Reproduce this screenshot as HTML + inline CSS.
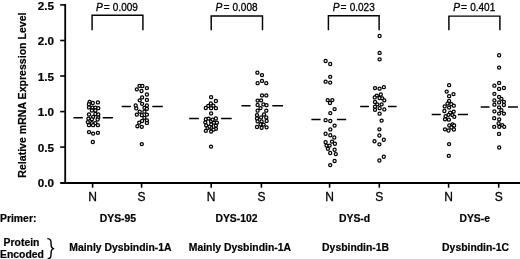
<!DOCTYPE html>
<html><head><meta charset="utf-8"><style>
html,body{margin:0;padding:0;background:#fff;width:520px;height:259px;overflow:hidden}
svg{display:block;will-change:transform}
text{font-family:"Liberation Sans",sans-serif;fill:#000}
.b{font-weight:bold;stroke:#000;stroke-width:0.2px}
.r{stroke:#000;stroke-width:0.3px}
</style></head><body>
<svg width="520" height="259" viewBox="0 0 520 259">

<g stroke="#000" fill="none">
<line x1="65.2" y1="4.1" x2="65.2" y2="183.9" stroke-width="1.8"/>
<line x1="60.2" y1="183.0" x2="520" y2="183.0" stroke-width="2.0"/>
<line x1="60.2" y1="147.1" x2="65.2" y2="147.1" stroke-width="1.6"/>
<line x1="60.2" y1="111.6" x2="65.2" y2="111.6" stroke-width="1.6"/>
<line x1="60.2" y1="76.0" x2="65.2" y2="76.0" stroke-width="1.6"/>
<line x1="60.2" y1="40.5" x2="65.2" y2="40.5" stroke-width="1.6"/>
<line x1="60.2" y1="4.9" x2="65.2" y2="4.9" stroke-width="1.6"/>
<line x1="92.6" y1="183" x2="92.6" y2="187.7" stroke-width="1.6"/>
<line x1="211.2" y1="183" x2="211.2" y2="187.7" stroke-width="1.6"/>
<line x1="329.6" y1="183" x2="329.6" y2="187.7" stroke-width="1.6"/>
<line x1="448.6" y1="183" x2="448.6" y2="187.7" stroke-width="1.6"/>
<line x1="141.6" y1="183" x2="141.6" y2="187.7" stroke-width="1.6"/>
<line x1="261.4" y1="183" x2="261.4" y2="187.7" stroke-width="1.6"/>
<line x1="379.3" y1="183" x2="379.3" y2="187.7" stroke-width="1.6"/>
<line x1="498.7" y1="183" x2="498.7" y2="187.7" stroke-width="1.6"/>
<path d="M92.1 30.3 V15.3 H142.9 V30.3" stroke-width="1.45"/>
<path d="M211.2 30.3 V16.0 H262.5 V30.3" stroke-width="1.45"/>
<path d="M328.4 30.3 V15.8 H379.1 V30.3" stroke-width="1.45"/>
<path d="M448.9 30.3 V16.1 H499.9 V30.3" stroke-width="1.45"/>
<path d="M73.4 117.75H82.8M102.7 117.75H112.9" stroke-width="1.5"/>
<path d="M121.7 106.5H130.9M152.3 106.5H162.8" stroke-width="1.5"/>
<path d="M189.2 118.5H198.9M221.1 118.5H231.7" stroke-width="1.5"/>
<path d="M241.5 105.7H250.5M272.3 105.7H283.1" stroke-width="1.5"/>
<path d="M311.4 119.4H320.6M336.9 119.4H346.2" stroke-width="1.5"/>
<path d="M360.2 106.4H368.9M387.9 106.4H396.6" stroke-width="1.5"/>
<path d="M431.7 114.5H440.8M457.9 114.5H468.0" stroke-width="1.5"/>
<path d="M480.7 107.1H489.5M508.0 107.1H517.9" stroke-width="1.5"/>
</g>
<g stroke="#000" fill="#fff" stroke-width="1.25">
<circle cx="89.6" cy="101.8" r="1.55"/>
<circle cx="88.9" cy="104.2" r="1.55"/>
<circle cx="92.8" cy="103.0" r="1.55"/>
<circle cx="97.9" cy="102.4" r="1.55"/>
<circle cx="89.0" cy="107.4" r="1.55"/>
<circle cx="92.5" cy="107.6" r="1.55"/>
<circle cx="95.4" cy="107.6" r="1.55"/>
<circle cx="98.3" cy="108.2" r="1.55"/>
<circle cx="91.9" cy="110.5" r="1.55"/>
<circle cx="95.4" cy="110.5" r="1.55"/>
<circle cx="89.0" cy="114.5" r="1.55"/>
<circle cx="95.4" cy="114.0" r="1.55"/>
<circle cx="98.3" cy="114.5" r="1.55"/>
<circle cx="93.1" cy="116.9" r="1.55"/>
<circle cx="98.3" cy="117.4" r="1.55"/>
<circle cx="88.4" cy="118.6" r="1.55"/>
<circle cx="91.9" cy="119.2" r="1.55"/>
<circle cx="97.6" cy="119.5" r="1.55"/>
<circle cx="87.8" cy="122.1" r="1.55"/>
<circle cx="91.9" cy="123.2" r="1.55"/>
<circle cx="95.4" cy="123.2" r="1.55"/>
<circle cx="89.0" cy="125.2" r="1.55"/>
<circle cx="93.1" cy="125.2" r="1.55"/>
<circle cx="97.9" cy="125.2" r="1.55"/>
<circle cx="89.0" cy="132.1" r="1.55"/>
<circle cx="93.1" cy="133.6" r="1.55"/>
<circle cx="97.9" cy="132.8" r="1.55"/>
<circle cx="92.8" cy="142.0" r="1.55"/>
<circle cx="139.5" cy="85.8" r="1.55"/>
<circle cx="142.4" cy="86.0" r="1.55"/>
<circle cx="136.8" cy="89.3" r="1.55"/>
<circle cx="141.5" cy="91.0" r="1.55"/>
<circle cx="146.9" cy="88.1" r="1.55"/>
<circle cx="146.9" cy="94.5" r="1.55"/>
<circle cx="142.1" cy="97.4" r="1.55"/>
<circle cx="139.7" cy="100.3" r="1.55"/>
<circle cx="146.9" cy="99.9" r="1.55"/>
<circle cx="142.1" cy="103.8" r="1.55"/>
<circle cx="135.7" cy="105.5" r="1.55"/>
<circle cx="146.9" cy="105.5" r="1.55"/>
<circle cx="144.4" cy="107.8" r="1.55"/>
<circle cx="136.3" cy="108.4" r="1.55"/>
<circle cx="146.9" cy="108.8" r="1.55"/>
<circle cx="139.7" cy="111.7" r="1.55"/>
<circle cx="144.4" cy="111.7" r="1.55"/>
<circle cx="136.8" cy="114.6" r="1.55"/>
<circle cx="141.8" cy="115.2" r="1.55"/>
<circle cx="146.9" cy="114.6" r="1.55"/>
<circle cx="144.4" cy="117.8" r="1.55"/>
<circle cx="142.1" cy="121.0" r="1.55"/>
<circle cx="146.9" cy="120.4" r="1.55"/>
<circle cx="139.2" cy="122.7" r="1.55"/>
<circle cx="146.9" cy="122.9" r="1.55"/>
<circle cx="137.4" cy="126.2" r="1.55"/>
<circle cx="141.8" cy="126.8" r="1.55"/>
<circle cx="141.8" cy="144.1" r="1.55"/>
<circle cx="211.1" cy="97.2" r="1.55"/>
<circle cx="215.9" cy="101.0" r="1.55"/>
<circle cx="210.8" cy="103.4" r="1.55"/>
<circle cx="208.2" cy="105.9" r="1.55"/>
<circle cx="213.4" cy="105.7" r="1.55"/>
<circle cx="205.8" cy="108.0" r="1.55"/>
<circle cx="211.1" cy="108.2" r="1.55"/>
<circle cx="215.9" cy="108.2" r="1.55"/>
<circle cx="211.1" cy="113.4" r="1.55"/>
<circle cx="205.8" cy="119.2" r="1.55"/>
<circle cx="208.6" cy="118.6" r="1.55"/>
<circle cx="215.9" cy="118.5" r="1.55"/>
<circle cx="211.1" cy="121.2" r="1.55"/>
<circle cx="205.3" cy="122.3" r="1.55"/>
<circle cx="214.0" cy="122.7" r="1.55"/>
<circle cx="216.9" cy="122.7" r="1.55"/>
<circle cx="206.2" cy="125.4" r="1.55"/>
<circle cx="211.1" cy="124.4" r="1.55"/>
<circle cx="215.9" cy="125.6" r="1.55"/>
<circle cx="207.6" cy="127.9" r="1.55"/>
<circle cx="211.1" cy="127.7" r="1.55"/>
<circle cx="215.9" cy="128.8" r="1.55"/>
<circle cx="205.8" cy="130.8" r="1.55"/>
<circle cx="211.1" cy="131.6" r="1.55"/>
<circle cx="209.5" cy="126.6" r="1.55"/>
<circle cx="213.5" cy="129.6" r="1.55"/>
<circle cx="212.6" cy="119.6" r="1.55"/>
<circle cx="211.0" cy="146.6" r="1.55"/>
<circle cx="257.4" cy="72.7" r="1.55"/>
<circle cx="262.0" cy="75.1" r="1.55"/>
<circle cx="257.6" cy="83.2" r="1.55"/>
<circle cx="262.0" cy="80.9" r="1.55"/>
<circle cx="266.3" cy="83.2" r="1.55"/>
<circle cx="262.0" cy="95.4" r="1.55"/>
<circle cx="266.3" cy="95.4" r="1.55"/>
<circle cx="257.6" cy="100.6" r="1.55"/>
<circle cx="261.1" cy="100.3" r="1.55"/>
<circle cx="257.6" cy="104.9" r="1.55"/>
<circle cx="263.4" cy="104.4" r="1.55"/>
<circle cx="266.5" cy="105.2" r="1.55"/>
<circle cx="260.5" cy="108.1" r="1.55"/>
<circle cx="257.6" cy="110.7" r="1.55"/>
<circle cx="266.3" cy="110.7" r="1.55"/>
<circle cx="257.0" cy="115.1" r="1.55"/>
<circle cx="264.0" cy="114.5" r="1.55"/>
<circle cx="261.1" cy="117.4" r="1.55"/>
<circle cx="257.0" cy="118.5" r="1.55"/>
<circle cx="266.3" cy="117.4" r="1.55"/>
<circle cx="257.6" cy="121.4" r="1.55"/>
<circle cx="261.6" cy="121.4" r="1.55"/>
<circle cx="266.6" cy="120.9" r="1.55"/>
<circle cx="260.5" cy="124.4" r="1.55"/>
<circle cx="257.0" cy="127.0" r="1.55"/>
<circle cx="261.6" cy="127.8" r="1.55"/>
<circle cx="266.6" cy="127.3" r="1.55"/>
<circle cx="263.6" cy="124.6" r="1.55"/>
<circle cx="325.6" cy="61.0" r="1.55"/>
<circle cx="330.2" cy="64.0" r="1.55"/>
<circle cx="330.2" cy="76.8" r="1.55"/>
<circle cx="325.6" cy="81.7" r="1.55"/>
<circle cx="330.2" cy="82.6" r="1.55"/>
<circle cx="327.7" cy="100.1" r="1.55"/>
<circle cx="332.3" cy="100.1" r="1.55"/>
<circle cx="330.0" cy="103.0" r="1.55"/>
<circle cx="334.6" cy="109.1" r="1.55"/>
<circle cx="330.3" cy="113.1" r="1.55"/>
<circle cx="325.6" cy="120.2" r="1.55"/>
<circle cx="330.3" cy="121.0" r="1.55"/>
<circle cx="334.6" cy="125.6" r="1.55"/>
<circle cx="330.3" cy="129.4" r="1.55"/>
<circle cx="325.6" cy="133.7" r="1.55"/>
<circle cx="330.3" cy="135.2" r="1.55"/>
<circle cx="334.3" cy="137.5" r="1.55"/>
<circle cx="325.6" cy="142.2" r="1.55"/>
<circle cx="332.0" cy="141.6" r="1.55"/>
<circle cx="334.9" cy="143.7" r="1.55"/>
<circle cx="326.5" cy="145.6" r="1.55"/>
<circle cx="329.6" cy="145.6" r="1.55"/>
<circle cx="327.9" cy="148.8" r="1.55"/>
<circle cx="334.6" cy="149.7" r="1.55"/>
<circle cx="330.2" cy="153.0" r="1.55"/>
<circle cx="335.8" cy="154.1" r="1.55"/>
<circle cx="334.6" cy="161.0" r="1.55"/>
<circle cx="330.2" cy="165.1" r="1.55"/>
<circle cx="379.6" cy="36.0" r="1.55"/>
<circle cx="379.6" cy="52.9" r="1.55"/>
<circle cx="379.6" cy="59.3" r="1.55"/>
<circle cx="375.0" cy="88.1" r="1.55"/>
<circle cx="379.6" cy="88.7" r="1.55"/>
<circle cx="383.9" cy="87.2" r="1.55"/>
<circle cx="380.8" cy="94.5" r="1.55"/>
<circle cx="376.7" cy="95.6" r="1.55"/>
<circle cx="374.7" cy="97.4" r="1.55"/>
<circle cx="379.6" cy="98.0" r="1.55"/>
<circle cx="382.3" cy="98.3" r="1.55"/>
<circle cx="384.3" cy="100.3" r="1.55"/>
<circle cx="375.0" cy="102.0" r="1.55"/>
<circle cx="377.3" cy="104.3" r="1.55"/>
<circle cx="381.6" cy="104.3" r="1.55"/>
<circle cx="375.0" cy="106.7" r="1.55"/>
<circle cx="379.6" cy="108.2" r="1.55"/>
<circle cx="384.3" cy="109.4" r="1.55"/>
<circle cx="375.0" cy="109.8" r="1.55"/>
<circle cx="379.6" cy="113.7" r="1.55"/>
<circle cx="381.6" cy="120.6" r="1.55"/>
<circle cx="379.4" cy="129.3" r="1.55"/>
<circle cx="379.4" cy="135.5" r="1.55"/>
<circle cx="383.8" cy="139.7" r="1.55"/>
<circle cx="374.5" cy="141.2" r="1.55"/>
<circle cx="379.4" cy="144.3" r="1.55"/>
<circle cx="383.8" cy="156.7" r="1.55"/>
<circle cx="379.4" cy="160.5" r="1.55"/>
<circle cx="449.1" cy="85.2" r="1.55"/>
<circle cx="446.7" cy="91.6" r="1.55"/>
<circle cx="453.5" cy="94.1" r="1.55"/>
<circle cx="449.1" cy="96.2" r="1.55"/>
<circle cx="449.1" cy="100.9" r="1.55"/>
<circle cx="447.5" cy="103.6" r="1.55"/>
<circle cx="451.3" cy="104.2" r="1.55"/>
<circle cx="453.8" cy="105.7" r="1.55"/>
<circle cx="444.7" cy="106.4" r="1.55"/>
<circle cx="449.1" cy="107.6" r="1.55"/>
<circle cx="444.4" cy="111.0" r="1.55"/>
<circle cx="453.7" cy="111.6" r="1.55"/>
<circle cx="450.2" cy="112.7" r="1.55"/>
<circle cx="448.5" cy="114.8" r="1.55"/>
<circle cx="452.5" cy="115.1" r="1.55"/>
<circle cx="445.6" cy="116.2" r="1.55"/>
<circle cx="454.3" cy="116.8" r="1.55"/>
<circle cx="445.0" cy="119.3" r="1.55"/>
<circle cx="448.9" cy="119.7" r="1.55"/>
<circle cx="452.5" cy="124.5" r="1.55"/>
<circle cx="449.3" cy="125.5" r="1.55"/>
<circle cx="454.1" cy="125.5" r="1.55"/>
<circle cx="451.4" cy="127.5" r="1.55"/>
<circle cx="445.0" cy="129.3" r="1.55"/>
<circle cx="448.5" cy="130.5" r="1.55"/>
<circle cx="453.9" cy="129.5" r="1.55"/>
<circle cx="449.1" cy="144.1" r="1.55"/>
<circle cx="448.8" cy="155.8" r="1.55"/>
<circle cx="499.1" cy="55.2" r="1.55"/>
<circle cx="499.1" cy="67.6" r="1.55"/>
<circle cx="499.1" cy="82.9" r="1.55"/>
<circle cx="494.4" cy="85.7" r="1.55"/>
<circle cx="499.1" cy="88.9" r="1.55"/>
<circle cx="503.9" cy="88.0" r="1.55"/>
<circle cx="494.4" cy="93.8" r="1.55"/>
<circle cx="499.1" cy="97.0" r="1.55"/>
<circle cx="501.4" cy="98.8" r="1.55"/>
<circle cx="494.4" cy="100.4" r="1.55"/>
<circle cx="503.9" cy="101.8" r="1.55"/>
<circle cx="499.1" cy="102.4" r="1.55"/>
<circle cx="494.4" cy="104.7" r="1.55"/>
<circle cx="503.9" cy="105.0" r="1.55"/>
<circle cx="499.1" cy="107.3" r="1.55"/>
<circle cx="501.4" cy="110.2" r="1.55"/>
<circle cx="494.4" cy="111.3" r="1.55"/>
<circle cx="499.1" cy="113.6" r="1.55"/>
<circle cx="503.9" cy="113.6" r="1.55"/>
<circle cx="494.2" cy="118.2" r="1.55"/>
<circle cx="499.2" cy="119.4" r="1.55"/>
<circle cx="498.6" cy="123.5" r="1.55"/>
<circle cx="502.3" cy="125.1" r="1.55"/>
<circle cx="494.2" cy="126.8" r="1.55"/>
<circle cx="499.3" cy="126.8" r="1.55"/>
<circle cx="504.2" cy="126.8" r="1.55"/>
<circle cx="499.0" cy="133.9" r="1.55"/>
<circle cx="499.2" cy="147.5" r="1.55"/>
</g>
<text class="b" x="54" y="187.4" font-size="11.7" text-anchor="end">0.0</text>
<text class="b" x="54" y="151.8" font-size="11.7" text-anchor="end">0.5</text>
<text class="b" x="54" y="116.3" font-size="11.7" text-anchor="end">1.0</text>
<text class="b" x="54" y="80.8" font-size="11.7" text-anchor="end">1.5</text>
<text class="b" x="54" y="45.2" font-size="11.7" text-anchor="end">2.0</text>
<text class="b" x="54" y="9.6" font-size="11.7" text-anchor="end">2.5</text>
<text class="b" font-size="10.57" text-anchor="middle" transform="translate(26.1 95.1) rotate(-90)">Relative mRNA Expression Level</text>
<text class="r" x="95.90" y="11" font-size="10.2"><tspan font-style="italic">P</tspan><tspan dx="1.0">=</tspan><tspan dx="0.4" font-size="10"> 0.009</tspan></text>
<text class="r" x="215.60" y="11" font-size="10.2"><tspan font-style="italic">P</tspan><tspan dx="1.0">=</tspan><tspan dx="0.4" font-size="10"> 0.008</tspan></text>
<text class="r" x="332.80" y="11" font-size="10.2"><tspan font-style="italic">P</tspan><tspan dx="1.0">=</tspan><tspan dx="0.4" font-size="10"> 0.023</tspan></text>
<text class="r" x="453.30" y="11" font-size="10.2"><tspan font-style="italic">P</tspan><tspan dx="1.0">=</tspan><tspan dx="0.4" font-size="10"> 0.401</tspan></text>
<text class="r" x="92.6" y="201.3" font-size="12" text-anchor="middle">N</text>
<text class="r" x="211.2" y="201.3" font-size="12" text-anchor="middle">N</text>
<text class="r" x="329.6" y="201.3" font-size="12" text-anchor="middle">N</text>
<text class="r" x="448.6" y="201.3" font-size="12" text-anchor="middle">N</text>
<text class="r" x="141.6" y="201.3" font-size="12" text-anchor="middle">S</text>
<text class="r" x="261.4" y="201.3" font-size="12" text-anchor="middle">S</text>
<text class="r" x="379.3" y="201.3" font-size="12" text-anchor="middle">S</text>
<text class="r" x="498.7" y="201.3" font-size="12" text-anchor="middle">S</text>
<text class="b" x="0" y="221.6" font-size="10.4">Primer:</text>
<text class="b" x="117.9" y="221.6" font-size="10.4" text-anchor="middle">DYS-95</text>
<text class="b" x="236.5" y="221.6" font-size="10.4" text-anchor="middle">DYS-102</text>
<text class="b" x="354.6" y="221.6" font-size="10.4" text-anchor="middle">DYS-d</text>
<text class="b" x="474.7" y="221.6" font-size="10.4" text-anchor="middle">DYS-e</text>
<text class="b" x="21.5" y="245.9" font-size="10.4" text-anchor="middle">Protein</text>
<text class="b" x="22" y="258.4" font-size="10.4" text-anchor="middle">Encoded</text>
<path d="M47.3 238.6 C51.2 238.6 51.1 241.5 51.1 244.5 C51.1 247 52 248.5 54.2 248.6 C52 248.7 51.2 250.3 51.1 252.5 C51 256 51.2 258.6 47.6 258.8" fill="none" stroke="#000" stroke-width="1.4"/>
<text class="b" x="120.4" y="250.5" font-size="10.4" text-anchor="middle">Mainly Dysbindin-1A</text>
<text class="b" x="239.9" y="250.5" font-size="10.4" text-anchor="middle">Mainly Dysbindin-1A</text>
<text class="b" x="355.6" y="250.5" font-size="10.4" text-anchor="middle">Dysbindin-1B</text>
<text class="b" x="475.6" y="250.5" font-size="10.4" text-anchor="middle">Dysbindin-1C</text>
</svg>
</body></html>
